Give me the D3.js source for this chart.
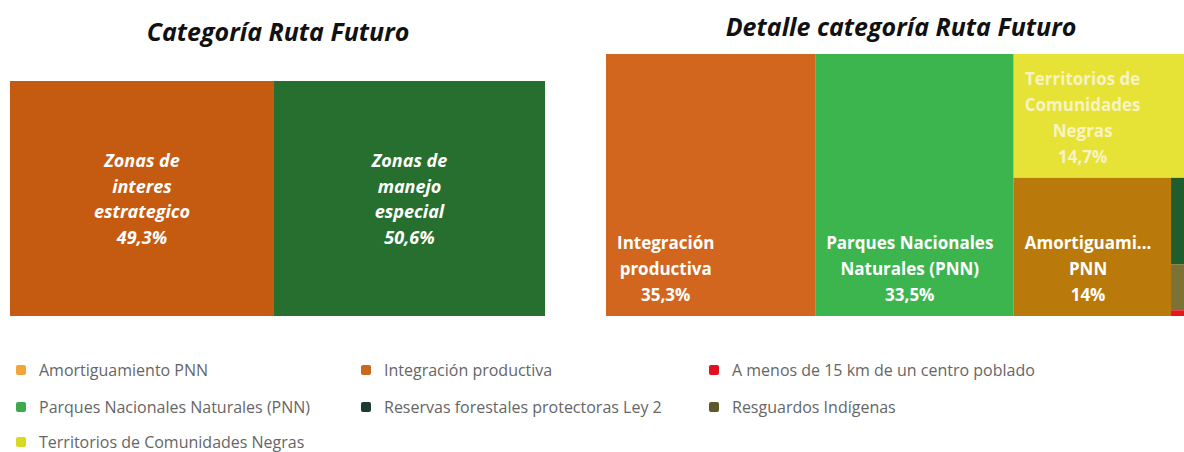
<!DOCTYPE html>
<html>
<head>
<meta charset="utf-8">
<script src="https://cdn.jsdelivr.net/npm/d3@7"></script>
<style>
  body { margin: 0; background: #fff; }
  svg { display: block; font-family: "Open Sans", sans-serif; }
</style>
</head>
<body>
<div id="chart"></div>
<script>
// left chart: two categories
var catNames = ["Zonas de interes estrategico", "Zonas de manejo especial"];
var catLines = [["Zonas de", "interes", "estrategico"], ["Zonas de", "manejo", "especial"]];
var catValues = [49.3, 50.6];
var catColors = ["#C55A11", "#276F2E"];

// right chart: treemap detail
var detNames = ["Integración productiva", "Parques Nacionales Naturales (PNN)", "Territorios de Comunidades Negras",
    "Amortiguamiento PNN", "Reservas forestales protectoras Ley 2", "Resguardos Indígenas", "A menos de 15 km de un centro poblado"];
var detLines = [["Integración", "productiva"], ["Parques Nacionales", "Naturales (PNN)"], ["Territorios de", "Comunidades", "Negras"],
    ["Amortiguami...", "PNN"], [], [], []];
var detValues = [35.3, 33.5, 14.7, 14, 1.5, 0.8, 0.1];
var detColors = ["#D2661F", "#3CB54F", "#E6E236", "#B97A0B", "#1F5E2C", "#7C7233", "#E8141E"];

// legend
var legNames = ["Amortiguamiento PNN", "Integración productiva", "A menos de 15 km de un centro poblado",
    "Parques Nacionales Naturales (PNN)", "Reservas forestales protectoras Ley 2", "Resguardos Indígenas",
    "Territorios de Comunidades Negras"];
var legColors = ["#F2A43A", "#C8691E", "#E2101E", "#3DA94B", "#1D3B2E", "#5F5729", "#D9D924"];

var fmt = function(v) { return String(v).replace(".", ",") + "%"; };

var W = 1184, H = 452;
var svg = d3.select("#chart").append("svg").attr("width", W).attr("height", H);

// ---------- left chart ----------
svg.append("text")
    .attr("x", 278).attr("y", 41)
    .attr("text-anchor", "middle")
    .style("font-size", "25px").style("font-weight", "bold").style("font-style", "italic")
    .attr("fill", "#111")
    .text("Categoría Ruta Futuro");

var total = d3.sum(catValues);
var x = d3.scaleLinear().domain([0, total]).range([10, 545]);
var cum = [0];
catValues.forEach(function(v, i) { cum.push(cum[i] + v); });

var left = svg.append("g");
var cats = left.selectAll("g").data(catValues).enter().append("g");
cats.append("rect")
    .attr("x", function(d, i) { return x(cum[i]); })
    .attr("y", 81)
    .attr("width", function(d, i) { return x(cum[i + 1]) - x(cum[i]); })
    .attr("height", 235)
    .attr("fill", function(d, i) { return catColors[i]; });

cats.each(function(d, i) {
    var lines = catLines[i].concat([fmt(d)]);
    var cx = (x(cum[i]) + x(cum[i + 1])) / 2;
    var cy = 81 + 235 / 2;
    var lh = 25.5;
    var t = d3.select(this).append("text")
        .attr("text-anchor", "middle")
        .attr("fill", "#fff")
        .style("font-size", "18px").style("font-weight", "bold").style("font-style", "italic");
    lines.forEach(function(l, j) {
        t.append("tspan")
            .attr("x", cx)
            .attr("y", cy + (j - (lines.length - 1) / 2) * lh + 7)
            .text(l);
    });
});

// ---------- right chart (treemap) ----------
svg.append("text")
    .attr("x", 901).attr("y", 36)
    .attr("text-anchor", "middle")
    .style("font-size", "25px").style("font-weight", "bold").style("font-style", "italic")
    .attr("fill", "#111")
    .text("Detalle categoría Ruta Futuro");

// classic squarified tiling (rows laid along the shorter side)
function worst(row, sum, side, k) {
    var t = sum * k / side;
    return d3.max(row, function(r) {
        var len = r.value * k / t;
        return Math.max(t / len, len / t);
    });
}
function classicSquarify(parent, x0, y0, x1, y1) {
    var nodes = parent.children, n = nodes.length, i = 0, value = parent.value;
    while (i < n) {
        var dx = x1 - x0, dy = y1 - y0;
        var k = dx * dy / value;
        var side = Math.min(dx, dy);
        var row = [nodes[i]], sum = nodes[i].value, wPrev = worst(row, sum, side, k);
        var j = i + 1;
        while (j < n) {
            var s2 = sum + nodes[j].value;
            var w2 = worst(row.concat([nodes[j]]), s2, side, k);
            if (w2 > wPrev) break;
            row.push(nodes[j]); sum = s2; wPrev = w2; j++;
        }
        if (dx >= dy) {
            var w = sum * k / dy, yy = y0;
            row.forEach(function(r) { r.x0 = x0; r.x1 = x0 + w; r.y0 = yy; yy += r.value * k / w; r.y1 = yy; });
            x0 += w;
        } else {
            var h = sum * k / dx, xx = x0;
            row.forEach(function(r) { r.y0 = y0; r.y1 = y0 + h; r.x0 = xx; xx += r.value * k / h; r.x1 = xx; });
            y0 += h;
        }
        value -= sum; i = j;
    }
}

var tmX = 606, tmY = 54, tmW = 592, tmH = 262;
var root = d3.hierarchy({ children: detNames.map(function(n, i) { return { name: n, value: detValues[i], idx: i }; }) })
    .sum(function(d) { return d.value || 0; })
    .sort(function(a, b) { return b.value - a.value; });

d3.treemap().size([tmW, tmH]).tile(classicSquarify)(root);

var tm = svg.append("g").attr("transform", "translate(" + tmX + "," + tmY + ")");
var leaf = tm.selectAll("g").data(root.leaves()).enter().append("g");
leaf.append("rect")
    .attr("x", function(d) { return d.x0; })
    .attr("y", function(d) { return d.y0; })
    .attr("width", function(d) { return d.x1 - d.x0; })
    .attr("height", function(d) { return d.y1 - d.y0; })
    .attr("fill", function(d) { return detColors[d.data.idx]; });

leaf.each(function(d) {
    var i = d.data.idx;
    if (!detLines[i].length) return;
    var lines = detLines[i].concat([fmt(d.data.value)]);
    var lh = 26;
    var yellow = i === 2;
    var t = d3.select(this).append("text")
        .attr("text-anchor", "middle")
        .attr("fill", yellow ? "#F7F3C4" : "#fff")
        .style("font-size", "17px").style("font-weight", "bold");
    var spans = lines.map(function(l) { return t.append("tspan").text(l); });
    var maxW = d3.max(spans, function(s) { return s.node().getComputedTextLength(); });
    var cx = d.x0 + 11 + maxW / 2;
    spans.forEach(function(s, j) {
        var cy = yellow ? d.y0 + 25 + j * lh : d.y1 - 21 - (lines.length - 1 - j) * lh;
        s.attr("x", cx).attr("y", cy + 6);
    });
});

// ---------- legend ----------
var colX = [16, 361, 709];
var rowY = [370, 407, 442];
var leg = svg.append("g").selectAll("g").data(legNames).enter().append("g")
    .attr("transform", function(d, i) { return "translate(" + colX[i % 3] + "," + rowY[Math.floor(i / 3)] + ")"; });
leg.append("rect")
    .attr("x", 0).attr("y", -5)
    .attr("width", 10).attr("height", 10)
    .attr("rx", 2)
    .attr("fill", function(d, i) { return legColors[i]; });
leg.append("text")
    .attr("x", 23).attr("y", 5.5)
    .attr("fill", "#666")
    .style("font-size", "16px")
    .text(function(d) { return d; });
</script>
</body>
</html>
